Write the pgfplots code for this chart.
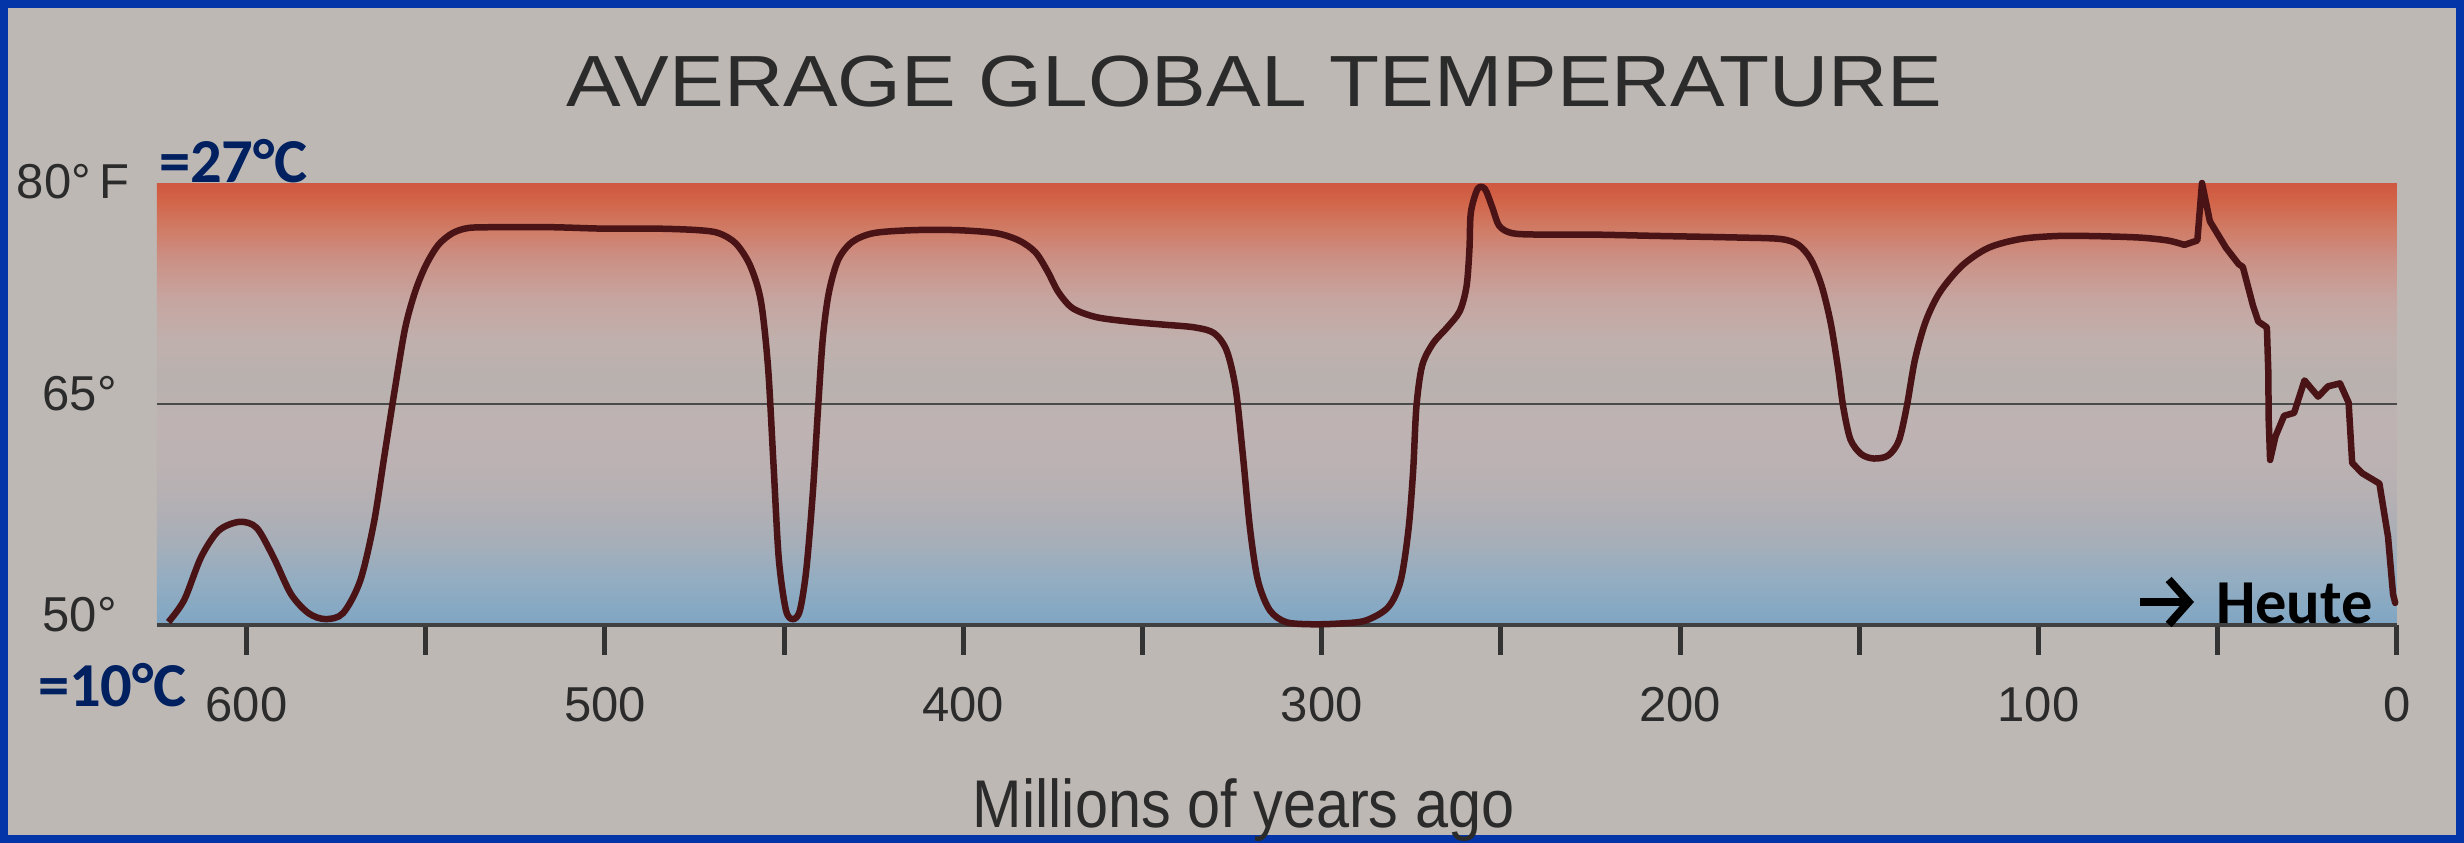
\documentclass[border=0pt]{standalone}
\usepackage{pgfplots}
\pgfplotsset{compat=1.18}
\usepackage{fontspec}
\setmainfont{Liberation Sans}
\newfontfamily\carlito{Carlito}
\usetikzlibrary{arrows.meta}

\definecolor{bg}{HTML}{BDB8B4}
\definecolor{frameblue}{HTML}{0335A8}
\definecolor{navy}{HTML}{002060}
\definecolor{curve}{HTML}{4A1416}
\definecolor{txt}{HTML}{2B2B2B}
\definecolor{line65}{HTML}{4A4A4A}
% gradient stops, bottom to top
\definecolor{s0}{HTML}{7FA6C4}
\definecolor{s1}{HTML}{93ADC1}
\definecolor{s2}{HTML}{A7AEB8}
\definecolor{s3}{HTML}{B4B0B3}
\definecolor{s4}{HTML}{BDB2B3}
\definecolor{s5}{HTML}{BEB3B2}
\definecolor{s6}{HTML}{B8B1AE}
\definecolor{s7}{HTML}{C0B0AD}
\definecolor{s8}{HTML}{C6A5A0}
\definecolor{s9}{HTML}{CB9186}
\definecolor{s10}{HTML}{D07C67}
\definecolor{s11}{HTML}{D26448}
\definecolor{s12}{HTML}{CF5840}
\pgfdeclareverticalshading{tempshade}{100bp}{%
  color(0bp)=(s0); color(25bp)=(s0); color(30.1bp)=(s1); color(34.6bp)=(s2);
  color(39.1bp)=(s3); color(43.7bp)=(s4); color(48.2bp)=(s5); color(52.7bp)=(s6);
  color(57.2bp)=(s7); color(61.8bp)=(s8); color(66.3bp)=(s9); color(69.7bp)=(s10);
  color(73.1bp)=(s11); color(75bp)=(s12); color(100bp)=(s12)}

\begin{document}
\begin{tikzpicture}
\fill[bg] (-31.4pt,-43.6pt) rectangle (461.4pt,125pt);
\draw[frameblue, line width=1.6pt] (-30.6pt,-42.8pt) rectangle (460.6pt,124.2pt);

\begin{axis}[
    at={(0,0)}, anchor=south west,
    scale only axis, width=448pt, height=88.4pt,
    x dir=reverse,
    xmin=0, xmax=625, ymin=50, ymax=80,
    axis x line*=bottom, axis y line*=left,
    x axis line style={-, draw=black!75, line width=0.8pt},
    y axis line style={draw=none},
    axis background/.style={shade, shading=tempshade},
    tick align=outside,
    major tick length=6pt, minor tick length=6pt,
    xtick={0,100,...,600},
    xticklabels={0,100,200,300,400,500,600},
    minor xtick={50,150,...,550},
    xtick style={draw=black!80, line width=1pt},
    minor tick style={draw=black!80, line width=1pt},
    xticklabel style={font=\fontsize{9.8}{11}\selectfont, text=txt, anchor=center, yshift=-10pt},
    ytick={50,65},
    yticklabels={50\textdegree, 65\textdegree},
    ytick style={draw=none},
    yticklabel style={font=\fontsize{9.8}{11}\selectfont, text=txt, anchor=east, xshift=1.5pt, yshift=2pt},
    clip=false,
]
\addplot[draw=line65, line width=0.5pt] coordinates {(0,65) (625,65)};

\addplot[curve, line width=1.3pt, smooth, line join=round] coordinates {
(621.8,50.2) (617.4,51.7) (612.7,54.6) (607.8,56.4) (602.0,57.0) (597.2,56.6)
(592.5,54.6) (587.6,52.1) (582.7,50.8) (578.0,50.4) (573.1,50.8) (568.3,53.0)
(564.5,56.9) (561.6,61.4) (558.7,65.9) (555.8,70.1) (553.0,72.6) (550.0,74.4)
(546.5,75.8) (542.5,76.6) (538.0,76.95) (530.0,77.0) (515.0,77.0) (500.0,76.9)
(485.0,76.9) (474.0,76.8) (468.3,76.6) (463.5,75.9) (459.5,74.4)
(456.5,72.0) (454.5,67.5) (453.0,61.0) (451.5,54.5) (449.5,51.0) (447.5,50.4) (445.6,51.0)
(443.8,53.8) (442.0,59.0) (440.6,64.5) (439.2,69.5) (437.5,72.6) (434.9,74.8) (431.0,76.0)
(425.0,76.6) (414.0,76.8) (401.8,76.8) (391.0,76.6) (384.5,76.1) (379.9,75.3) (376.5,74.0)
(373.5,72.6) (369.5,71.5) (363.0,70.9) (354.0,70.6) (344.8,70.4) (335.5,70.2) (330.0,69.8)
(326.5,68.6) (324.0,66.0) (322.0,61.5) (320.0,56.5) (317.8,53.0) (314.5,51.0) (310.0,50.2)
(303.0,50.05) (295.0,50.1) (287.8,50.3) (281.5,51.2) (278.0,53.0) (275.8,56.5) (274.5,60.5)
(273.6,64.8) (272.0,67.6) (269.0,69.1) (265.0,70.2) (261.5,71.3) (259.6,73.0) (258.8,75.5)
(258.4,78.0) (256.5,79.6) (254.5,79.6) (252.5,78.4) (250.5,77.1) (247.0,76.6) (240.0,76.5)
(225.0,76.5) (205.0,76.4) (184.0,76.3) (172.0,76.2) (167.0,75.8) (163.5,74.8) (160.5,73.0)
(158.0,70.5) (156.0,67.5) (154.5,64.8) (152.5,62.6) (149.5,61.6) (146.0,61.3) (142.0,61.5)
(139.0,62.5) (136.8,64.8) (134.5,68.0) (131.5,70.6) (127.5,72.6) (121.3,74.4) (114.0,75.6)
(105.0,76.2) (95.0,76.4) (85.3,76.4) (72.0,76.3) (64.0,76.1) (59.3,75.8)
};
\addplot[curve, line width=1.3pt, line join=round, line cap=round] coordinates {
(59.3,75.8) (55.7,76.1) (54.4,80.0) (52.2,77.4) (47.7,75.6) (44.2,74.5)
(43.0,74.3) (40.2,71.7) (38.7,70.6) (36.3,70.2) (35.9,67.2) (35.8,64.0)
(35.4,61.2) (33.9,62.8) (31.5,64.2) (28.7,64.4) (25.8,66.6) (22.0,65.5)
(19.2,66.2) (15.9,66.4) (13.5,65.1) (12.5,61.0) (9.7,60.3) (4.9,59.6)
(2.5,56.0) (1.1,52.1) (0.5,51.5)
};
\end{axis}

% top temperature label
\node[font=\fontsize{9.8}{11}\selectfont, text=txt, anchor=east, inner sep=0pt]
  at (-5.4pt,88.6pt) {80\textdegree\,F};

% title and axis label
\node[font=\fontsize{14.5}{16}\selectfont, text=txt, xscale=1.13, anchor=west, inner sep=0pt]
  at (81.6pt,108.6pt) {AVERAGE GLOBAL TEMPERATURE};
\node[font=\fontsize{13.5}{15}\selectfont, text=txt, xscale=0.88, anchor=base west, inner sep=0pt]
  at (163pt,-40.4pt) {Millions of years ago};

% annotations
\node[font=\carlito\bfseries\fontsize{12.5}{14}\selectfont, text=navy, anchor=west, inner sep=0pt]
  at (0.2pt,92.8pt) {=27\textdegree C};
\node[font=\carlito\bfseries\fontsize{12.5}{14}\selectfont, text=navy, anchor=west, inner sep=0pt]
  at (-24pt,-12pt) {=10\textdegree C};
\draw[black, line width=1.6pt, -{Straight Barb[length=4pt,width=9pt,line width=1.6pt]}] (396.6pt,4.6pt) -- (407.4pt,4.6pt);
\node[font=\carlito\bfseries\fontsize{12.5}{14}\selectfont, text=black, anchor=base west, inner sep=0pt]
  at (411.6pt,0.2pt) {Heute};

\pgfresetboundingbox
\path[use as bounding box] (-31.4pt,-43.6pt) rectangle (461.4pt,125pt);
\end{tikzpicture}
\end{document}
